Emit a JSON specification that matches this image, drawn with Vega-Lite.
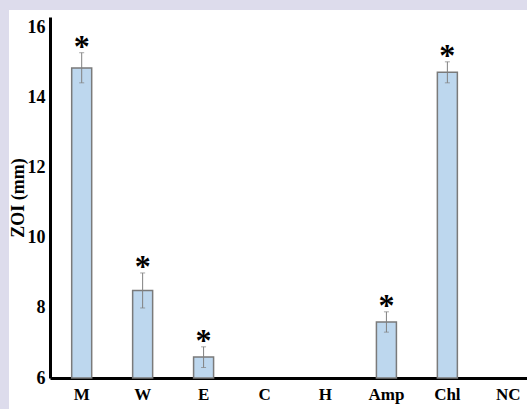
{
  "$schema": "https://vega.github.io/schema/vega-lite/v6.json",
  "width": 518,
  "height": 399,
  "autosize": {"type": "none"},
  "padding": {"left": 9, "top": 10, "right": 0, "bottom": 0},
  "background": "#dddcec",
  "config": {"view": {"fill": "white", "stroke": null}},
  "data": {
    "values": [
      {"cat": "M", "value": 14.85, "lo": 14.43, "hi": 15.29, "sig": "*"},
      {"cat": "W", "value": 8.5, "lo": 8.0, "hi": 9.0, "sig": "*"},
      {"cat": "E", "value": 6.6, "lo": 6.3, "hi": 6.89, "sig": "*"},
      {"cat": "C", "value": null, "lo": null, "hi": null, "sig": null},
      {"cat": "H", "value": null, "lo": null, "hi": null, "sig": null},
      {"cat": "Amp", "value": 7.6, "lo": 7.31, "hi": 7.89, "sig": "*"},
      {"cat": "Chl", "value": 14.73, "lo": 14.43, "hi": 15.03, "sig": "*"},
      {"cat": "NC", "value": null, "lo": null, "hi": null, "sig": null}
    ]
  },
  "encoding": {
    "x": {
      "field": "cat",
      "type": "nominal",
      "sort": null,
      "scale": {"domain": ["M", "W", "E", "C", "H", "Amp", "Chl", "NC"], "range": [41, 531], "paddingInner": 0, "paddingOuter": 0.02},
      "axis": {
        "title": null,
        "orient": "bottom",
        "offset": -31,
        "domainColor": "black",
        "domainWidth": 3,
        "ticks": false,
        "labelAngle": 0,
        "labelFont": "Liberation Serif",
        "labelFontWeight": "bold",
        "labelFontSize": 17,
        "labelColor": "black",
        "labelPadding": 8
      }
    }
  },
  "layer": [
    {
      "mark": {"type": "bar", "size": 20, "fill": "#bdd7ee", "stroke": "#7a7a7a", "strokeWidth": 1.5},
      "encoding": {
        "y": {
          "field": "value",
          "type": "quantitative",
          "scale": {"domain": [6, 16.31], "range": [368, 7], "nice": false, "zero": false},
          "axis": {
            "title": "ZOI (mm)",
            "orient": "left",
            "offset": -41,
            "values": [6, 8, 10, 12, 14, 16],
            "grid": false,
            "domainColor": "black",
            "domainWidth": 3,
            "ticks": false,
            "labelFont": "Liberation Serif",
            "labelFontWeight": "bold",
            "labelFontSize": 18,
            "labelColor": "black",
            "labelPadding": 5,
            "titleFont": "Liberation Serif",
            "titleFontWeight": "bold",
            "titleFontSize": 18,
            "titleColor": "black",
            "titlePadding": 0
          }
        },
        "y2": {"datum": 6}
      }
    },
    {
      "mark": {"type": "rule", "color": "#808080", "strokeWidth": 1},
      "encoding": {
        "y": {"field": "lo", "type": "quantitative"},
        "y2": {"field": "hi"}
      }
    },
    {
      "mark": {"type": "tick", "color": "#808080", "thickness": 1, "size": 5, "orient": "horizontal"},
      "encoding": {"y": {"field": "lo", "type": "quantitative"}}
    },
    {
      "mark": {"type": "tick", "color": "#808080", "thickness": 1, "size": 5, "orient": "horizontal"},
      "encoding": {"y": {"field": "hi", "type": "quantitative"}}
    },
    {
      "mark": {"type": "text", "font": "Liberation Serif", "fontWeight": "bold", "fontSize": 32, "baseline": "alphabetic", "dy": 4, "color": "black"},
      "encoding": {
        "y": {"field": "hi", "type": "quantitative"},
        "text": {"field": "sig"}
      }
    }
  ]
}
